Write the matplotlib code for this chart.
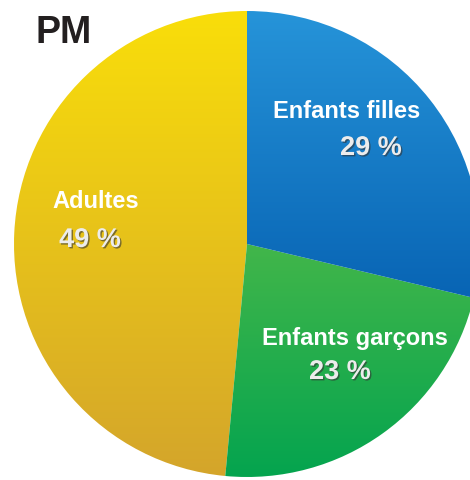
import matplotlib.pyplot as plt
import matplotlib.patheffects as pe
from matplotlib.colors import LinearSegmentedColormap
import numpy as np

# ======================== DATA ========================
labels = ['Adultes', 'Enfants garçons', 'Enfants filles']
values = [49, 23, 29]
pct_text = ['49 %', '23 %', '29 %']
# gradient colours (top, bottom) for each slice
grad = [('#f9de0a', '#d4a52b'),
        ('#42b64a', '#04a44f'),
        ('#2694d9', '#0864b4')]

W, H = 470, 481
cx, cy, r = 247, H - 245, 233

fig = plt.figure(figsize=(W / 100, H / 100), dpi=100)
ax = fig.add_axes([0, 0, 1, 1])

wedges, _ = ax.pie(values, startangle=90, counterclock=True,
                   center=(cx, cy), radius=r, frame=True,
                   wedgeprops=dict(linewidth=0))
ax.set_xlim(0, W)
ax.set_ylim(0, H)
ax.set_aspect('equal')
ax.axis('off')

# vertical gradient fill clipped to each wedge (spread over the wedge's own height)
g = np.linspace(1, 0, 256).reshape(-1, 1)
for w, (top, bot) in zip(wedges, grad):
    w.set_facecolor('none')
    ext = w.get_path().get_extents()
    cmap = LinearSegmentedColormap.from_list('g', [bot, top])
    im = ax.imshow(g, cmap=cmap, aspect='auto', origin='upper',
                   extent=(ext.x0, ext.x1, ext.y0, ext.y1), zorder=1)
    im.set_clip_path(w)
ax.set_xlim(0, W)
ax.set_ylim(0, H)

# ======================== TEXT ========================
font = 'Liberation Sans'
shadow = [pe.withSimplePatchShadow(offset=(1, -1), shadow_rgbFace='#333333', alpha=0.6)]

ax.text(35, H - 43, 'PM', fontsize=27, fontweight='bold', color='#231f20',
        family=font, va='baseline', ha='left')

lab_pos = [(96, 202), (355, 338), (347, 112)]
pct_pos = [(90, 241), (340, 373), (371, 149)]
for lab, pct, (lx, ly), (px, py) in zip(labels, pct_text, lab_pos, pct_pos):
    ax.text(lx, H - ly, lab, fontsize=17, fontweight='bold', color='white',
            family=font, ha='center', va='center')
    ax.text(px, H - py, pct, fontsize=19.5, fontweight='bold', color='#ececec',
            family=font, ha='center', va='center', path_effects=shadow)

fig.savefig('out.png', dpi=100)
